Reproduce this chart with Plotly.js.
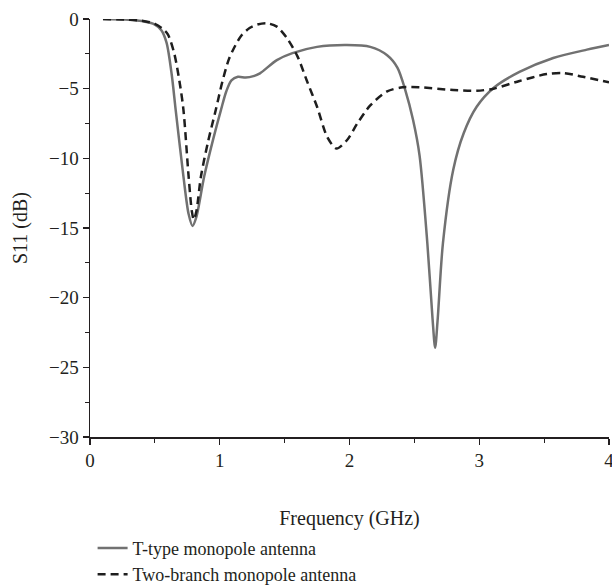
<!DOCTYPE html>
<html>
<head>
<meta charset="utf-8">
<script src="https://cdn.plot.ly/plotly-3.0.1.min.js"></script>
<style>html,body{margin:0;padding:0;background:#fff;}</style>
</head>
<body>
<div id="chart" style="width:612px;height:586px;"></div>
<script>
// T-type monopole antenna (solid gray)
const tFreq = [0.1, 0.3, 0.4, 0.5, 0.55, 0.59, 0.63, 0.66, 0.72, 0.76, 0.79, 0.82, 0.88, 0.95, 1.01, 1.05, 1.09, 1.14, 1.2, 1.26, 1.31, 1.44, 1.56, 1.75, 1.98, 2.16, 2.29, 2.37, 2.43, 2.49, 2.54, 2.6, 2.64, 2.66, 2.68, 2.72, 2.8, 2.88, 2.98, 3.11, 3.31, 3.57, 3.83, 4.0];
const tS11  = [0, -0.05, -0.15, -0.4, -0.8, -1.7, -4, -6.5, -11.3, -14, -14.85, -14.2, -11.3, -8.6, -6.5, -5.2, -4.4, -4.15, -4.2, -4.1, -3.9, -2.95, -2.45, -2.0, -1.87, -2.0, -2.6, -3.5, -5.1, -7.25, -9.8, -16.1, -21.5, -23.6, -21.5, -16.1, -10.8, -8.2, -6.3, -4.95, -3.8, -2.8, -2.2, -1.87];

// Two-branch monopole antenna (dashed black)
const bFreq = [0.1, 0.3, 0.4, 0.5, 0.56, 0.6, 0.65, 0.69, 0.72, 0.76, 0.785, 0.80, 0.82, 0.855, 0.91, 0.97, 1.02, 1.07, 1.12, 1.17, 1.23, 1.29, 1.36, 1.44, 1.52, 1.60, 1.67, 1.75, 1.83, 1.90, 1.98, 2.06, 2.16, 2.29, 2.41, 2.54, 2.8, 2.98, 3.11, 3.31, 3.52, 3.65, 3.8, 4.0];
const bS11  = [0, -0.05, -0.12, -0.35, -0.7, -1.1, -2.5, -4.5, -6.5, -11.3, -13.8, -14.4, -13.8, -11.3, -8.8, -6.5, -4.5, -2.9, -1.9, -1.15, -0.65, -0.4, -0.3, -0.55, -1.4, -2.7, -4.4, -6.3, -8.5, -9.3, -8.7, -7.5, -6.2, -5.2, -4.9, -4.9, -5.1, -5.15, -5.0, -4.45, -3.95, -3.88, -4.15, -4.55];

const xTicks = [0, 1, 2, 3, 4];
const yTicks = [0, -5, -10, -15, -20, -25, -30];

const FONT = "'Liberation Serif', 'DejaVu Serif', serif";

const traces = [
  {x: tFreq, y: tS11, type: 'scatter', mode: 'lines', name: 'T-type monopole antenna',
   line: {color: '#717171', width: 2.5, shape: 'spline', smoothing: 0.8}},
  {x: bFreq, y: bS11, type: 'scatter', mode: 'lines', name: 'Two-branch monopole antenna',
   line: {color: '#1e1e1e', width: 2.5, dash: '8px,5px', shape: 'spline', smoothing: 0.8}}
];

const layout = {
  width: 612, height: 586,
  margin: {l: 90, r: 3, t: 19, b: 149},
  paper_bgcolor: '#fff', plot_bgcolor: '#fff',
  font: {family: FONT, size: 19, color: '#231f20'},
  showlegend: true,
  legend: {x: 0.005, y: 0.096, xref: 'paper', yref: 'container', xanchor: 'left', yanchor: 'top', orientation: 'v',
           font: {family: FONT, size: 18, color: '#231f20'}, itemwidth: 30, tracegroupgap: 0,
           bgcolor: 'rgba(0,0,0,0)'},
  xaxis: {
    range: [0, 4], tickvals: xTicks, ticktext: xTicks.map(String), ticklabeloverflow: 'allow',
    showgrid: false, zeroline: false, showline: true, linecolor: '#231f20', linewidth: 1.5,
    ticks: 'outside', ticklen: 6, tickwidth: 1.2, tickcolor: '#231f20',
    minor: {dtick: 0.5, ticks: 'outside', ticklen: 4, tickwidth: 1, tickcolor: '#231f20', showgrid: false},
    tickfont: {family: FONT, size: 19},
    title: {text: 'Frequency (GHz)', font: {family: FONT, size: 20}, standoff: 54}
  },
  yaxis: {
    range: [-30, 0], tickvals: yTicks, ticktext: yTicks.map(v => v < 0 ? '\u2212' + Math.abs(v) : String(v)),
    showgrid: false, zeroline: false, showline: true, linecolor: '#231f20', linewidth: 1.5,
    ticks: 'outside', ticklen: 6, tickwidth: 1.2, tickcolor: '#231f20',
    minor: {dtick: 2.5, ticks: 'outside', ticklen: 4, tickwidth: 1, tickcolor: '#231f20', showgrid: false},
    tickfont: {family: FONT, size: 19},
    title: {text: 'S11 (dB)', font: {family: FONT, size: 20}, standoff: 16}
  }
};

Plotly.newPlot('chart', traces, layout, {displayModeBar: false, staticPlot: true});
</script>
</body>
</html>
